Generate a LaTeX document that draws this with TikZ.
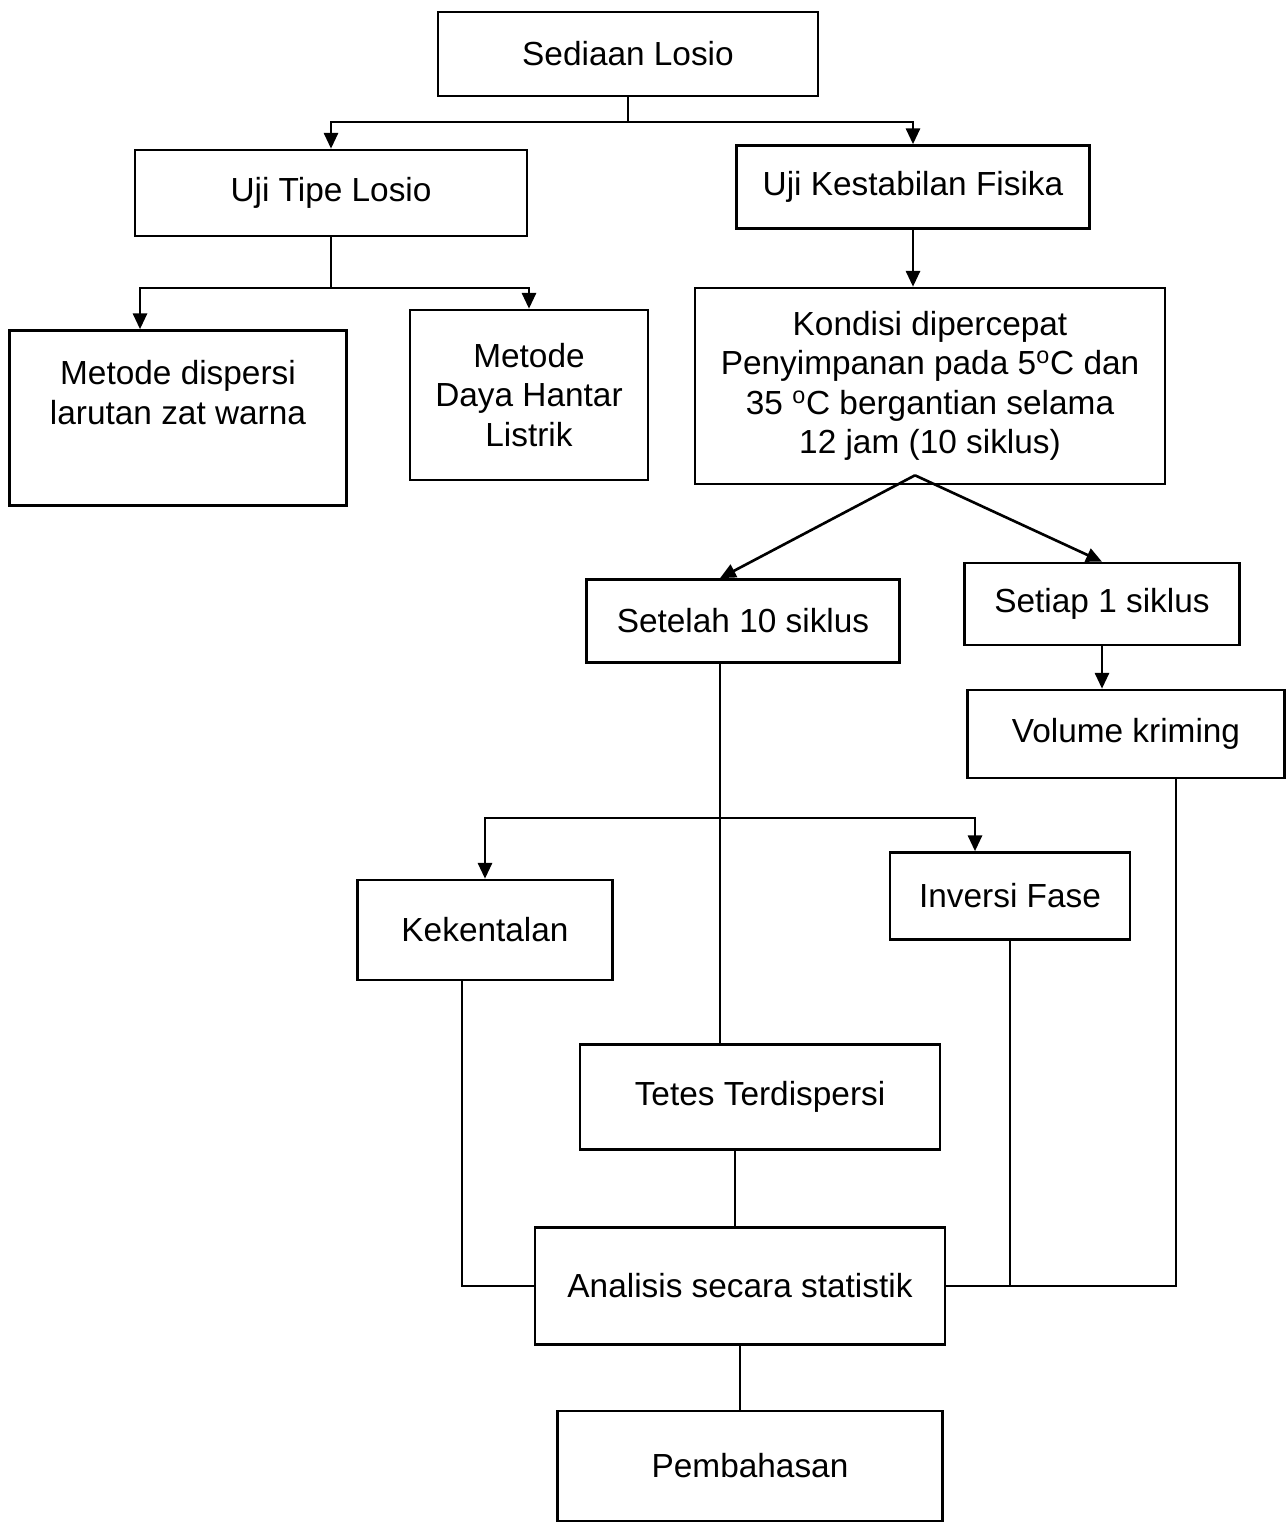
\documentclass[tikz,border=0pt]{standalone}
\usepackage{fontspec}
\setmainfont{Liberation Sans}
\usetikzlibrary{arrows.meta}

\begin{document}
\begin{tikzpicture}[x=0.02cm,y=-0.02cm,
  box/.style={draw, line width=1.5pt, align=center, inner sep=2pt, font=\fontsize{19}{22.5}\selectfont},
  link/.style={line width=1.5pt},
  arr/.style={line width=1.5pt, -{Triangle[length=9pt,width=8pt]}}]
\useasboundingbox (0,0) rectangle (1287,1526);
\node[box, minimum width=7.6cm, minimum height=1.68cm] (sediaan) at (628,54) {Sediaan Losio};
\node[box, minimum width=7.84cm, minimum height=1.72cm] (ujitipe) at (331,193) {Uji Tipe Losio};
\node[box, minimum width=7.06cm, minimum height=1.66cm] (ujifisika) at (913,187) {Uji Kestabilan Fisika};
\node[box, minimum width=6.74cm, minimum height=3.5cm] (dispersi) at (178,418) {Metode dispersi\\larutan zat warna\\\strut};
\node[box, minimum width=4.76cm, minimum height=3.4cm] (dayahantar) at (529,395) {Metode\\Daya Hantar\\Listrik};
\node[box, minimum width=9.4cm, minimum height=3.92cm] (kondisi) at (930,386) {Kondisi dipercepat\\Penyimpanan pada 5\textsuperscript{o}C dan\\35 \textsuperscript{o}C bergantian selama\\12 jam (10 siklus)};
\node[box, minimum width=6.26cm, minimum height=1.66cm] (setelah) at (743,621) {Setelah 10 siklus};
\node[box, minimum width=5.5cm, minimum height=1.64cm] (setiap) at (1102,604) {Setiap 1 siklus};
\node[box, minimum width=6.34cm, minimum height=1.76cm] (volume) at (1126,734) {Volume kriming};
\node[box, minimum width=5.1cm, minimum height=2.0cm] (kekentalan) at (485,930) {Kekentalan};
\node[box, minimum width=4.8cm, minimum height=1.74cm] (inversi) at (1010,896) {Inversi Fase};
\node[box, minimum width=7.2cm, minimum height=2.1cm] (tetes) at (760,1097) {Tetes Terdispersi};
\node[box, minimum width=8.2cm, minimum height=2.34cm] (analisis) at (740,1286) {Analisis secara statistik};
\node[box, minimum width=7.7cm, minimum height=2.2cm] (pembahasan) at (750,1466) {Pembahasan};
% splits
\coordinate (top-split) at (628,122);
\coordinate (tipe-split) at (331,288);
\coordinate (fork) at ([xshift=-0.3cm,yshift=0.2cm]kondisi.south);
\coordinate (mid-split) at (720,818);
% connectors
\draw[link] (sediaan) -- (top-split);
\draw[arr] (top-split) -| (ujitipe.north);
\draw[arr] (top-split) -| (ujifisika.north);
\draw[link] (ujitipe) -- (tipe-split);
\draw[arr] (tipe-split) -| ([xshift=-0.76cm]dispersi.north);
\draw[arr] (tipe-split) -| (dayahantar.north);
\draw[arr] (ujifisika.south) -- (ujifisika.south |- kondisi.north);
\draw[arr] (fork) -- ([xshift=-0.46cm]setelah.north);
\draw[arr] (fork) -- (setiap.north);
\draw[arr] (setiap.south) -- (setiap.south |- volume.north);
\draw[link] ([xshift=-0.46cm]setelah.south) -- ([xshift=-0.46cm]setelah.south |- tetes.north);
\draw[arr] (mid-split) -| (kekentalan.north);
\draw[arr] (mid-split) -| ([xshift=-0.7cm]inversi.north);
\draw[link] ([xshift=-0.46cm]kekentalan.south) |- (analisis.west);
\draw[link] ([xshift=-0.5cm]tetes.south) -- ([xshift=-0.5cm]tetes.south |- analisis.north);
\draw[link] (inversi.south) -- (inversi.south |- analisis.east);
\draw[link] ([xshift=1cm]volume.south) |- (analisis.east);
\draw[link] (analisis.south) -- (analisis.south |- pembahasan.north);
\end{tikzpicture}
\end{document}
